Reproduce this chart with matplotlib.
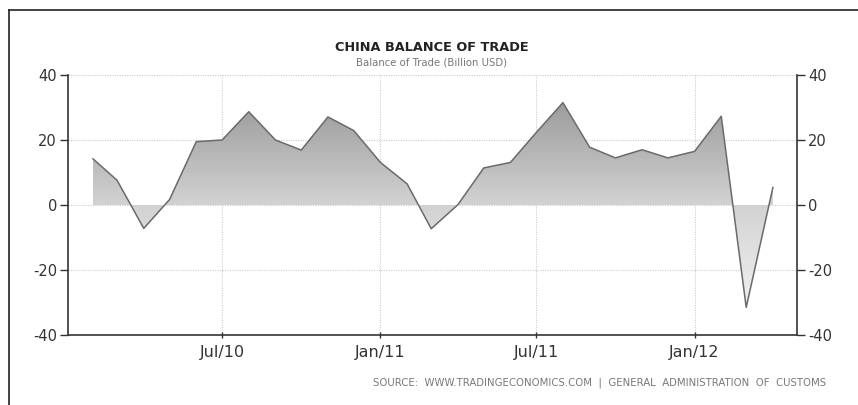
import numpy as np
import matplotlib
matplotlib.use('Agg')
import matplotlib.pyplot as plt
import matplotlib.dates as mdates
from matplotlib.colors import LinearSegmentedColormap
import datetime as dt

# monthly trade balance, Jan 2010 .. Mar 2012 (billion USD)
months = ['2010-01', '2010-02', '2010-03', '2010-04', '2010-05', '2010-06',
          '2010-07', '2010-08', '2010-09', '2010-10', '2010-11', '2010-12',
          '2011-01', '2011-02', '2011-03', '2011-04', '2011-05', '2011-06',
          '2011-07', '2011-08', '2011-09', '2011-10', '2011-11', '2011-12',
          '2012-01', '2012-02', '2012-03']
balance = [14.2, 7.6, -7.2, 1.7, 19.5, 20.0,
           28.7, 20.0, 16.9, 27.1, 22.9, 13.1,
           6.5, -7.3, 0.1, 11.4, 13.1, 22.3,
           31.5, 17.8, 14.5, 17.0, 14.5, 16.5,
           27.3, -31.5, 5.4]
tick_dates = ['2010-07', '2011-01', '2011-07', '2012-01']
tick_labels = ['Jul/10', 'Jan/11', 'Jul/11', 'Jan/12']
yticks = [-40, -20, 0, 20, 40]


def month_end(s):
    # values are plotted at the close of their month
    y, m = map(int, s.split('-'))
    y, m = (y + 1, 1) if m == 12 else (y, m + 1)
    return dt.date(y, m, 1)


def main():
    plt.rcParams['axes.unicode_minus'] = False
    x = mdates.date2num([month_end(m) for m in months])
    y = np.array(balance)
    xt = mdates.date2num([dt.date(*map(int, s.split('-')), 1) for s in tick_dates])

    fig = plt.figure(figsize=(8.58, 4.05), dpi=100, facecolor='white')
    ax = fig.add_axes([0.0793, 0.1728, 0.8496, 0.642])
    ax.set_xlim(mdates.date2num(dt.date(2010, 1, 3)), mdates.date2num(dt.date(2012, 4, 29)))
    ax.set_ylim(-40, 40)

    # gradient fill between the line and zero
    poly = ax.fill_between(x, y, 0, color='none', lw=0)
    cmap = LinearSegmentedColormap.from_list('g', ['#f2f2f2', '#d2d2d2', '#999999'])
    grad = np.linspace(0, 1, 256).reshape(-1, 1)
    img = ax.imshow(grad, cmap=cmap, aspect='auto', origin='lower',
                    extent=[x[0], x[-1], -33, 33], zorder=1)
    path = poly.get_paths()[0]
    img.set_clip_path(path, transform=ax.transData)
    ax.plot(x, y, color='#6a6a6a', lw=1.1, zorder=3)

    # dotted grid
    for v in yticks:
        ax.axhline(v, color='#cccccc', lw=0.8, ls=(0, (1, 1.2)), zorder=0)
    for v in xt:
        ax.axvline(v, color='#cccccc', lw=0.8, ls=(0, (1, 1.2)), zorder=0)

    ax.spines['top'].set_visible(False)
    for s in ['left', 'right', 'bottom']:
        ax.spines[s].set_color('#333333')
        ax.spines[s].set_linewidth(1.2)

    ax.set_xticks(xt)
    ax.set_xticklabels(tick_labels)
    ax.set_yticks(yticks)
    ax.tick_params(axis='y', which='both', left=True, right=True, labelleft=True,
                   labelright=True, length=6, width=1, color='#333333',
                   labelsize=10.5, labelcolor='#333333', pad=2)
    ax.tick_params(axis='x', length=5, width=1, color='#333333', direction='inout',
                   labelsize=11.5, labelcolor='#333333', pad=5)

    fig.text(0.503, 0.883, 'CHINA BALANCE OF TRADE', ha='center', va='center',
             fontsize=9.3, fontweight='bold', color='#222222')
    fig.text(0.503, 0.845, 'Balance of Trade (Billion USD)', ha='center', va='center',
             fontsize=7.3, color='#777777')
    fig.text(0.963, 0.054, 'SOURCE:  WWW.TRADINGECONOMICS.COM  |  GENERAL  ADMINISTRATION  OF  CUSTOMS',
             ha='right', va='center', fontsize=7.3, color='#777777')

    # frame around the chart
    fig.add_artist(plt.Line2D([0.0105, 0.0105], [0, 0.975], transform=fig.transFigure,
                              color='#222222', lw=1.2))
    fig.add_artist(plt.Line2D([0.0105, 1.0], [0.975, 0.975], transform=fig.transFigure,
                              color='#222222', lw=1.2))

    fig.savefig('out.png', dpi=100, facecolor='white')


if __name__ == '__main__':
    main()
